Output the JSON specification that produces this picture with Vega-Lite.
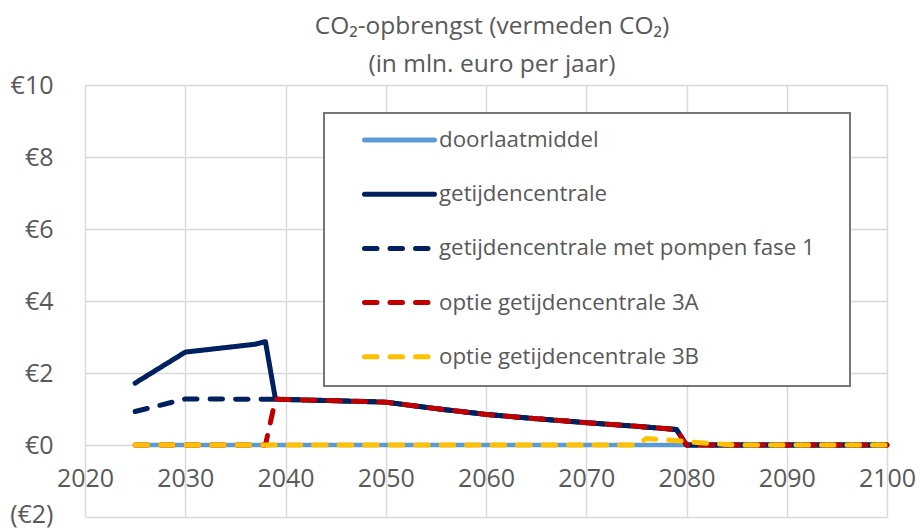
{
  "$schema": "https://vega.github.io/schema/vega-lite/v6.json",
  "width": 802,
  "height": 432,
  "autosize": {"type": "none"},
  "padding": {"left": 85, "top": 85, "right": 33, "bottom": 11},
  "background": "white",
  "title": {
    "text": ["CO₂-opbrengst (vermeden CO₂)", "(in mln. euro per jaar)"],
    "fontSize": 24.5,
    "fontWeight": "normal",
    "font": "Open Sans",
    "color": "#595959",
    "anchor": "middle",
    "lineHeight": 38,
    "offset": -4,
    "dx": 6
  },
  "config": {
    "view": {"stroke": null},
    "font": "Open Sans"
  },
  "data": {
    "values": [
      {"series": "doorlaatmiddel", "year": 2025, "value": 0},
      {"series": "doorlaatmiddel", "year": 2100, "value": 0},

      {"series": "getijdencentrale", "year": 2025, "value": 1.72},
      {"series": "getijdencentrale", "year": 2030, "value": 2.58},
      {"series": "getijdencentrale", "year": 2037, "value": 2.8},
      {"series": "getijdencentrale", "year": 2038, "value": 2.87},
      {"series": "getijdencentrale", "year": 2039, "value": 1.27},
      {"series": "getijdencentrale", "year": 2045, "value": 1.23},
      {"series": "getijdencentrale", "year": 2050, "value": 1.19},
      {"series": "getijdencentrale", "year": 2055, "value": 1.01},
      {"series": "getijdencentrale", "year": 2060, "value": 0.85},
      {"series": "getijdencentrale", "year": 2065, "value": 0.73},
      {"series": "getijdencentrale", "year": 2070, "value": 0.62},
      {"series": "getijdencentrale", "year": 2075, "value": 0.52},
      {"series": "getijdencentrale", "year": 2079, "value": 0.43},
      {"series": "getijdencentrale", "year": 2080, "value": 0},
      {"series": "getijdencentrale", "year": 2100, "value": 0},

      {"series": "getijdencentrale met pompen fase 1", "year": 2025, "value": 0.93},
      {"series": "getijdencentrale met pompen fase 1", "year": 2030, "value": 1.28},
      {"series": "getijdencentrale met pompen fase 1", "year": 2038, "value": 1.27},
      {"series": "getijdencentrale met pompen fase 1", "year": 2039, "value": 1.27},
      {"series": "getijdencentrale met pompen fase 1", "year": 2045, "value": 1.23},
      {"series": "getijdencentrale met pompen fase 1", "year": 2050, "value": 1.19},
      {"series": "getijdencentrale met pompen fase 1", "year": 2055, "value": 1.01},
      {"series": "getijdencentrale met pompen fase 1", "year": 2060, "value": 0.85},
      {"series": "getijdencentrale met pompen fase 1", "year": 2065, "value": 0.73},
      {"series": "getijdencentrale met pompen fase 1", "year": 2070, "value": 0.62},
      {"series": "getijdencentrale met pompen fase 1", "year": 2075, "value": 0.52},
      {"series": "getijdencentrale met pompen fase 1", "year": 2079, "value": 0.43},
      {"series": "getijdencentrale met pompen fase 1", "year": 2080, "value": 0},
      {"series": "getijdencentrale met pompen fase 1", "year": 2100, "value": 0},

      {"series": "optie getijdencentrale 3A", "year": 2025, "value": 0},
      {"series": "optie getijdencentrale 3A", "year": 2038, "value": 0},
      {"series": "optie getijdencentrale 3A", "year": 2039, "value": 1.27},
      {"series": "optie getijdencentrale 3A", "year": 2045, "value": 1.23},
      {"series": "optie getijdencentrale 3A", "year": 2050, "value": 1.19},
      {"series": "optie getijdencentrale 3A", "year": 2055, "value": 1.01},
      {"series": "optie getijdencentrale 3A", "year": 2060, "value": 0.85},
      {"series": "optie getijdencentrale 3A", "year": 2065, "value": 0.73},
      {"series": "optie getijdencentrale 3A", "year": 2070, "value": 0.62},
      {"series": "optie getijdencentrale 3A", "year": 2075, "value": 0.52},
      {"series": "optie getijdencentrale 3A", "year": 2079, "value": 0.43},
      {"series": "optie getijdencentrale 3A", "year": 2080, "value": 0},
      {"series": "optie getijdencentrale 3A", "year": 2100, "value": 0},

      {"series": "optie getijdencentrale 3B", "year": 2025, "value": 0},
      {"series": "optie getijdencentrale 3B", "year": 2075, "value": 0},
      {"series": "optie getijdencentrale 3B", "year": 2076, "value": 0.18},
      {"series": "optie getijdencentrale 3B", "year": 2077, "value": 0.16},
      {"series": "optie getijdencentrale 3B", "year": 2079, "value": 0.12},
      {"series": "optie getijdencentrale 3B", "year": 2081, "value": 0.07},
      {"series": "optie getijdencentrale 3B", "year": 2083, "value": 0.03},
      {"series": "optie getijdencentrale 3B", "year": 2085, "value": 0},
      {"series": "optie getijdencentrale 3B", "year": 2100, "value": 0}
    ]
  },
  "encoding": {
    "x": {
      "field": "year",
      "type": "quantitative",
      "scale": {"domain": [2020, 2100], "nice": false, "zero": false},
      "axis": {
        "title": null,
        "values": [2020, 2030, 2040, 2050, 2060, 2070, 2080, 2090, 2100],
        "format": "d",
        "offset": -72,
        "domain": false,
        "ticks": false,
        "grid": true,
        "gridColor": "#d9d9d9",
        "gridWidth": 1.5,
        "labelFontSize": 25,
        "labelColor": "#595959",
        "labelPadding": 21,
        "labelFlush": false,
        "labelOverlap": false
      }
    },
    "y": {
      "field": "value",
      "type": "quantitative",
      "scale": {"domain": [-2, 10], "nice": false, "zero": false},
      "axis": {
        "title": null,
        "values": [-2, 0, 2, 4, 6, 8, 10],
        "labelExpr": "datum.value < 0 ? '(€' + abs(datum.value) + ')' : '€' + datum.value",
        "domain": false,
        "ticks": false,
        "grid": true,
        "gridColor": "#d9d9d9",
        "gridWidth": 1.5,
        "labelFontSize": 25,
        "labelColor": "#595959",
        "labelPadding": 32,
        "labelOffset": {"condition": {"test": "datum.value < 0", "value": -3}, "value": 0},
        "labelFlush": false,
        "labelOverlap": false
      }
    },
    "color": {
      "field": "series",
      "type": "nominal",
      "sort": null,
      "scale": {
        "domain": ["doorlaatmiddel", "getijdencentrale", "getijdencentrale met pompen fase 1", "optie getijdencentrale 3A", "optie getijdencentrale 3B"],
        "range": ["#5b9bd5", "#002060", "#002060", "#c00000", "#ffc000"]
      },
      "legend": {
        "title": null,
        "orient": "none",
        "legendX": 239,
        "legendY": 28,
        "padding": 17,
        "strokeColor": "#767676",
        "fillColor": "white",
        "symbolType": "stroke",
        "symbolSize": 4900,
        "symbolStrokeWidth": 5,
        "symbolOffset": 21,
        "clipHeight": 20,
        "rowPadding": 31.2,
        "labelOffset": 2,
        "labelFontSize": 22.3,
        "labelColor": "#595959",
        "labelLimit": 600,
        "labelExpr": "datum.label + '\u00a0\u00a0\u00a0\u200b'",
        "encode": {
          "legend": {"update": {"strokeWidth": {"value": 2}}},
          "symbols": {"update": {"strokeCap": {"value": "round"}}}
        }
      }
    },
    "strokeDash": {
      "field": "series",
      "type": "nominal",
      "sort": null,
      "scale": {
        "domain": ["doorlaatmiddel", "getijdencentrale", "getijdencentrale met pompen fase 1", "optie getijdencentrale 3A", "optie getijdencentrale 3B"],
        "range": [[1, 0], [1, 0], [12.5, 13], [12.5, 13], [12.5, 13]]
      }
    }
  },
  "layer": [
    {
      "transform": [{"filter": "datum.series === 'doorlaatmiddel'"}],
      "mark": {"type": "line", "strokeWidth": 4.5, "strokeCap": "round", "strokeJoin": "round"}
    },
    {
      "transform": [{"filter": "datum.series === 'getijdencentrale'"}],
      "mark": {"type": "line", "strokeWidth": 5, "strokeCap": "round", "strokeJoin": "round"}
    },
    {
      "transform": [{"filter": "datum.series === 'getijdencentrale met pompen fase 1'"}],
      "mark": {"type": "line", "strokeWidth": 5, "strokeCap": "round", "strokeJoin": "round"}
    },
    {
      "transform": [{"filter": "datum.series === 'optie getijdencentrale 3A'"}],
      "mark": {"type": "line", "strokeWidth": 5, "strokeCap": "round", "strokeJoin": "round"}
    },
    {
      "transform": [{"filter": "datum.series === 'optie getijdencentrale 3B'"}],
      "mark": {"type": "line", "strokeWidth": 5, "strokeCap": "round", "strokeJoin": "round"}
    }
  ]
}
